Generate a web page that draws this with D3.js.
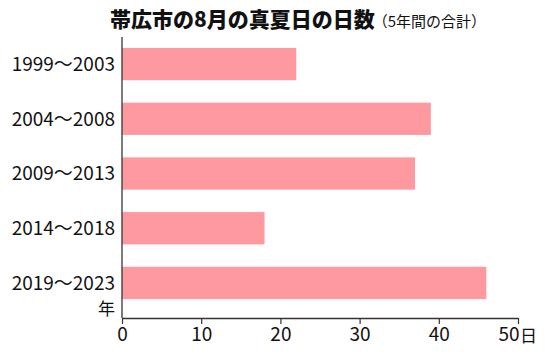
<!DOCTYPE html>
<html><head><meta charset="utf-8">
<script src="https://cdn.jsdelivr.net/npm/d3@7"></script>
<style>body{margin:0;background:#fff}svg{display:block}</style>
</head><body>
<svg id="c" width="550" height="361"></svg>
<script>
const categories = ["1999～2003","2004～2008","2009～2013","2014～2018","2019～2023"];
const values = [22, 39, 37, 18, 46];
const xTicks = [0, 10, 20, 30, 40, 50];
const title = "帯広市の8月の真夏日の日数";
const subtitle = "（5年間の合計）";

(function(){
const svg = d3.select("#c");
const mLeft = 122, mRight = 518, mTop = 37, mBottom = 318;
const x = d3.scaleLinear().domain([0, 50]).range([mLeft, mRight]);
const y = d3.scaleBand().domain(categories).range([37, 310]).paddingInner(0.41).paddingOuter(0.2);
const font = "'Noto Sans CJK JP', 'Noto Sans', sans-serif";

svg.selectAll("rect.bar").data(values).join("rect")
  .attr("class","bar")
  .attr("x", x(0)).attr("y", (d,i)=>y(categories[i]))
  .attr("width", d=>x(d)-x(0)).attr("height", y.bandwidth())
  .attr("fill", "#fd999f");

const xa = svg.append("g").attr("transform", `translate(0,${mBottom})`)
  .call(d3.axisBottom(x).tickValues(xTicks).tickSize(6).tickPadding(4).tickSizeOuter(0));
xa.select(".domain").attr("stroke","#333").attr("stroke-width",1.3);
xa.selectAll(".tick line").attr("stroke","#333").attr("stroke-width",1.2);
xa.selectAll(".tick text").attr("font-family", font).attr("font-size", 19).attr("fill","#111")
  .attr("text-anchor", d => d === 50 ? "end" : "middle")
  .attr("x", d => d === 50 ? 1 : 0);

svg.append("line").attr("x1", mLeft).attr("x2", mLeft).attr("y1", mTop).attr("y2", mBottom)
  .attr("stroke","#333").attr("stroke-width",1.3);

svg.selectAll("text.cat").data(categories).join("text")
  .attr("class","cat")
  .attr("x", 115).attr("y", d=>y(d)+y.bandwidth()/2)
  .attr("dy","0.36em").attr("text-anchor","end")
  .attr("font-family", font).attr("font-size", 19).attr("fill","#111").text(d=>d);

svg.append("text").attr("x", 115).attr("y", 315).attr("text-anchor","end")
  .attr("font-family", font).attr("font-size", 17).attr("fill","#111").text("年");
svg.append("text").attr("x", 520).attr("y", 342)
  .attr("font-family", font).attr("font-size", 17).attr("fill","#111").text("日");

const t = svg.append("text").attr("x", 110).attr("y", 27).attr("font-family", font).attr("fill","#111");
t.append("tspan").attr("font-size", 21).attr("font-weight", 900).text(title);
t.append("tspan").attr("font-size", 15).attr("dx", -2).text(subtitle);
})();
</script>
</body></html>
